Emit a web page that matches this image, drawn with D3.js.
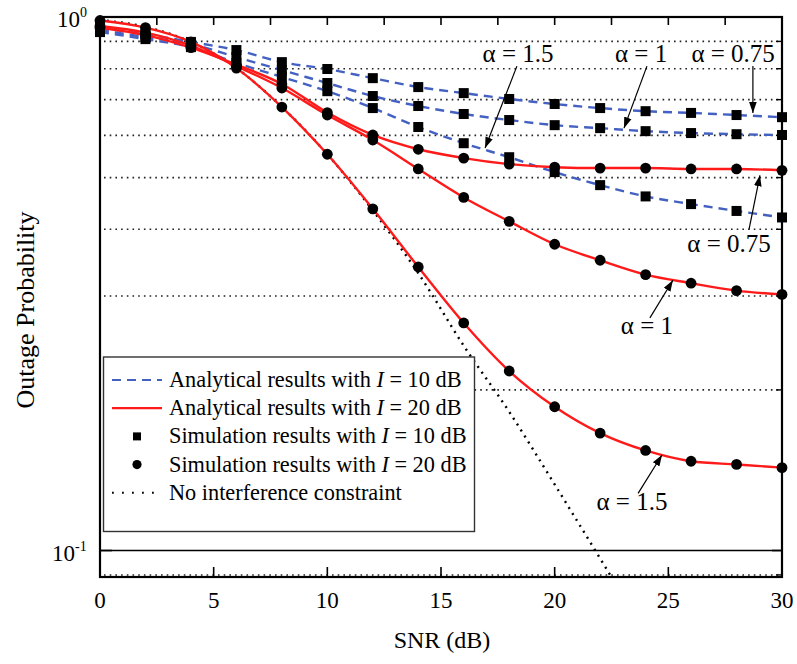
<!DOCTYPE html>
<html><head><meta charset="utf-8">
<script src="https://cdn.jsdelivr.net/npm/d3@7"></script>
<style>
body{margin:0;background:#fff}
svg{display:block;background:#fff}
text{font-family:"Liberation Serif","Times New Roman",serif;fill:#000}
</style>
</head><body>
<svg id="chart" width="797" height="664"></svg>
<script>
// ---------------- data ----------------
const snr = [0,2,4,6,8,10,12,14,16,18,20,22,24,26,28,30];

// I = 10 dB (analytical = dashed blue, simulation = squares)
const i10Alpha075 = [0.953,0.929,0.898,0.867,0.823,0.799,0.768,0.739,0.720,0.702,0.687,0.675,0.666,0.661,0.655,0.649];
const i10Alpha1   = [0.945,0.917,0.890,0.841,0.795,0.752,0.711,0.681,0.658,0.641,0.627,0.619,0.611,0.606,0.603,0.601];
const i10Alpha15  = [0.937,0.909,0.878,0.820,0.772,0.726,0.675,0.622,0.580,0.546,0.512,0.484,0.461,0.446,0.433,0.421];

// I = 20 dB (analytical = solid red, simulation = circles)
const i20Alpha075 = [0.955,0.925,0.876,0.814,0.749,0.662,0.601,0.565,0.544,0.530,0.523,0.521,0.521,0.519,0.519,0.516];
const i20Alpha1   = [0.962,0.935,0.884,0.809,0.736,0.655,0.588,0.519,0.459,0.414,0.375,0.350,0.329,0.317,0.307,0.302];
const i20Alpha15  = [0.985,0.955,0.898,0.802,0.678,0.553,0.437,0.340,0.267,0.217,0.186,0.166,0.154,0.147,0.145,0.143];

// No interference constraint (dotted)
const noIntSnr = [0,2,4,6,8,10,12,14,16,18,20,22,24];
const noIntVals = [0.987,0.958,0.898,0.802,0.678,0.553,0.434,0.331,0.242,0.182,0.133,0.0966,0.070];

const xTicks = [0,5,10,15,20,25,30];
const xMinorTicks = [0,2.5,5,7.5,10,12.5,15,17.5,20,22.5,25,27.5,30];
const yGridDotted = [0.09,0.2,0.3,0.4,0.5,0.6,0.7,0.8,0.9];
const yGridSolid = [0.1];
const yMajor = [{v:1,exp:"0"},{v:0.1,exp:"-1"}];

const legendLabels = [
  {pre:"Analytical results with ", it:"I", post:" = 10 dB", kind:"dash"},
  {pre:"Analytical results with ", it:"I", post:" = 20 dB", kind:"solid"},
  {pre:"Simulation results with ", it:"I", post:" = 10 dB", kind:"square"},
  {pre:"Simulation results with ", it:"I", post:" = 20 dB", kind:"circle"},
  {pre:"No interference constraint", it:"", post:"", kind:"dot"}
];

// annotations in data coordinates: text anchor, arrow tail, arrow tip
const annotations = [
  {label:"α = 1.5",  tx:18.39, tv:0.823, ax:18.34, av:0.809, bx:16.94, bv:0.568},
  {label:"α = 1",    tx:23.8,  tv:0.823, ax:24.06, av:0.809, bx:23.05, bv:0.619},
  {label:"α = 0.75", tx:27.85, tv:0.823, ax:28.72, av:0.809, bx:28.72, bv:0.661},
  {label:"α = 0.75", tx:27.67, tv:0.362, ax:28.55, av:0.400, bx:29.03, bv:0.505},
  {label:"α = 1",    tx:24.06, tv:0.255, ax:24.19, av:0.273, bx:25.2,  bv:0.321},
  {label:"α = 1.5",  tx:23.4,  tv:0.119, ax:23.67, av:0.128, bx:24.72, bv:0.151}
];

// ---------------- layout ----------------
const L = 100, R = 782, T = 17, B = 577;
const BLUE = "#4461c2", RED = "#ff1a1a";

const svg = d3.select("#chart");
const x = d3.scaleLinear().domain([0,30]).range([L,R]);
const y = d3.scaleLog().domain([0.0892,1]).range([B,T]);

svg.append("defs").append("clipPath").attr("id","clip")
  .append("rect").attr("x",L).attr("y",T).attr("width",R-L).attr("height",B-T);
svg.select("defs").append("marker").attr("id","arr")
  .attr("viewBox","0 0 10 10").attr("refX",10).attr("refY",5)
  .attr("markerWidth",11).attr("markerHeight",11).attr("markerUnits","userSpaceOnUse")
  .attr("orient","auto")
  .append("path").attr("d","M0,1.5 L10,5 L0,8.5 Z").attr("fill","#000");

// gridlines
svg.append("g").selectAll("line").data(yGridDotted).join("line")
  .attr("x1",L+4).attr("x2",R-2).attr("y1",d=>y(d)).attr("y2",d=>y(d))
  .attr("stroke","#222").attr("stroke-width",1.6).attr("stroke-dasharray","1.6,4.1");
svg.append("g").selectAll("line").data(yGridSolid).join("line")
  .attr("x1",L).attr("x2",R).attr("y1",d=>y(d)).attr("y2",d=>y(d))
  .attr("stroke","#000").attr("stroke-width",1.6);

const plot = svg.append("g").attr("clip-path","url(#clip)");
const line = (xs) => d3.line().x((d,i)=>x(xs[i])).y(d=>y(d)).curve(d3.curveMonotoneX);

// no interference dotted
plot.append("path").datum(noIntVals).attr("d",line(noIntSnr))
  .attr("fill","none").attr("stroke","#000").attr("stroke-width",2.4)
  .attr("stroke-dasharray","2,5");

// dashed blue
[i10Alpha075,i10Alpha1,i10Alpha15].forEach(s=>{
  plot.append("path").datum(s).attr("d",line(snr))
    .attr("fill","none").attr("stroke",BLUE).attr("stroke-width",2.4)
    .attr("stroke-dasharray","9,6");
});
// solid red
[i20Alpha075,i20Alpha1,i20Alpha15].forEach(s=>{
  plot.append("path").datum(s).attr("d",line(snr))
    .attr("fill","none").attr("stroke",RED).attr("stroke-width",2.4);
});
// squares
[i10Alpha075,i10Alpha1,i10Alpha15].forEach(s=>{
  svg.append("g").selectAll("rect").data(s).join("rect")
    .attr("x",(d,i)=>x(snr[i])-5).attr("y",d=>y(d)-5)
    .attr("width",10).attr("height",10).attr("fill","#000");
});
// circles
[i20Alpha075,i20Alpha1,i20Alpha15].forEach(s=>{
  svg.append("g").selectAll("circle").data(s).join("circle")
    .attr("cx",(d,i)=>x(snr[i])).attr("cy",d=>y(d)).attr("r",5.4).attr("fill","#000");
});

// frame
svg.append("rect").attr("x",L).attr("y",T).attr("width",R-L).attr("height",B-T)
  .attr("fill","none").attr("stroke","#000").attr("stroke-width",2.2);

// ticks
svg.append("g").selectAll("line").data(xTicks).join("line")
  .attr("x1",d=>x(d)).attr("x2",d=>x(d)).attr("y1",B).attr("y2",B-10)
  .attr("stroke","#000").attr("stroke-width",1.6);
svg.append("g").selectAll("line").data(xMinorTicks).join("line")
  .attr("x1",d=>x(d)).attr("x2",d=>x(d)).attr("y1",T).attr("y2",T+8)
  .attr("stroke","#000").attr("stroke-width",1.6);
svg.append("g").selectAll("line").data(yGridDotted).join("line")
  .attr("x1",R).attr("x2",R-6).attr("y1",d=>y(d)).attr("y2",d=>y(d))
  .attr("stroke","#000").attr("stroke-width",1.4);
svg.append("g").selectAll("line").data(yMajor).join("line")
  .attr("x1",L).attr("x2",L+12).attr("y1",d=>y(d.v)).attr("y2",d=>y(d.v))
  .attr("stroke","#000").attr("stroke-width",1.6);
svg.append("g").selectAll("line").data(yMajor).join("line")
  .attr("x1",R).attr("x2",R-10).attr("y1",d=>y(d.v)).attr("y2",d=>y(d.v))
  .attr("stroke","#000").attr("stroke-width",1.6);

// tick labels
svg.append("g").selectAll("text").data(xTicks).join("text")
  .attr("x",d=>x(d)).attr("y",608).attr("text-anchor","middle")
  .attr("font-size",23).text(d=>d);
const yl = svg.append("g").selectAll("text").data(yMajor).join("text")
  .attr("x",d=> d.exp==="0" ? 57 : 52).attr("y",d=>y(d.v)+10).attr("font-size",23);
yl.append("tspan").text("10");
yl.append("tspan").attr("dy",-10).attr("font-size",14).text(d=>d.exp);

// axis titles
svg.append("text").attr("x",(L+R)/2 + 1).attr("y",648).attr("text-anchor","middle")
  .attr("font-size",24).text("SNR (dB)");
svg.append("text").attr("transform","translate(34,310) rotate(-90)")
  .attr("text-anchor","middle").attr("font-size",26).text("Outage Probability");

// annotations
const ann = svg.append("g");
annotations.forEach(a=>{
  ann.append("line").attr("x1",x(a.ax)).attr("y1",y(a.av)).attr("x2",x(a.bx)).attr("y2",y(a.bv))
    .attr("stroke","#000").attr("stroke-width",1.2).attr("marker-end","url(#arr)");
  ann.append("text").attr("x",x(a.tx)).attr("y",y(a.tv)).attr("text-anchor","middle")
    .attr("font-size",25).text(a.label);
});

// legend
const lg = svg.append("g");
lg.append("rect").attr("x",103.5).attr("y",357).attr("width",371).attr("height",174.5)
  .attr("fill","#fff").attr("stroke","#333").attr("stroke-width",1.4);
const rowY = i => 380 + i*28.2;
legendLabels.forEach((d,i)=>{
  const yy = rowY(i);
  if(d.kind==="dash") lg.append("line").attr("x1",112).attr("x2",162).attr("y1",yy).attr("y2",yy)
      .attr("stroke",BLUE).attr("stroke-width",2.2).attr("stroke-dasharray","9,6");
  if(d.kind==="solid") lg.append("line").attr("x1",112).attr("x2",162).attr("y1",yy).attr("y2",yy)
      .attr("stroke",RED).attr("stroke-width",2.2);
  if(d.kind==="square") lg.append("rect").attr("x",133).attr("y",yy-4).attr("width",8).attr("height",8).attr("fill","#000");
  if(d.kind==="circle") lg.append("circle").attr("cx",137).attr("cy",yy).attr("r",4.6).attr("fill","#000");
  if(d.kind==="dot") lg.append("line").attr("x1",112).attr("x2",162).attr("y1",yy).attr("y2",yy)
      .attr("stroke","#000").attr("stroke-width",2).attr("stroke-dasharray","1.8,8.2");
  const t = lg.append("text").attr("x",169).attr("y",yy+7).attr("font-size",22.3);
  t.append("tspan").text(d.pre);
  if(d.it){ t.append("tspan").attr("font-style","italic").text(d.it); t.append("tspan").text(d.post); }
});
</script>
</body></html>
